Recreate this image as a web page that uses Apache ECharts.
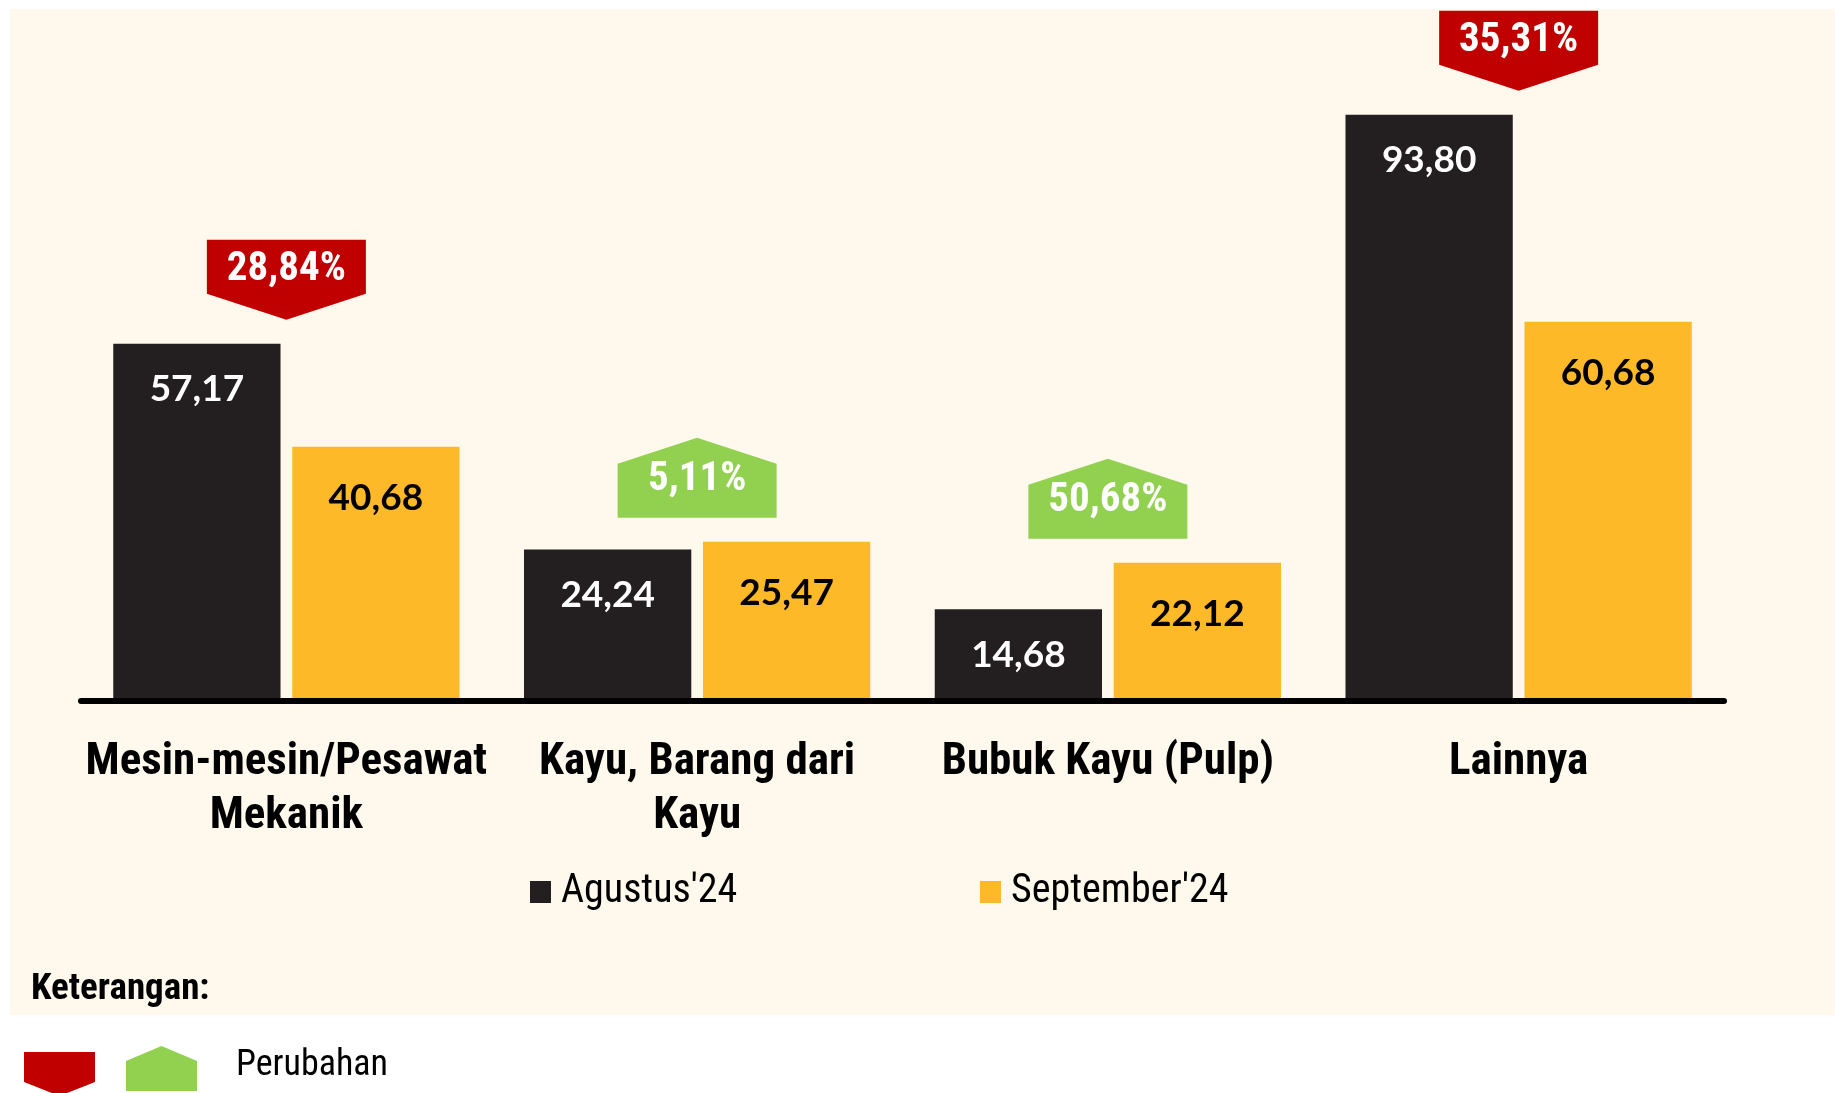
<!DOCTYPE html>
<html>
<head>
<meta charset="utf-8">
<title>Perubahan Ekspor</title>
<script src="https://cdn.jsdelivr.net/npm/echarts@6/dist/echarts.min.js"></script>
<style>
  html, body { margin: 0; padding: 0; background: #fff; }
  #main { width: 1835px; height: 1093px; }
</style>
</head>
<body>
<div id="main"></div>
<script>
const categories = ["Mesin-mesin/Pesawat\nMekanik", "Kayu, Barang dari\nKayu", "Bubuk Kayu (Pulp)", "Lainnya"];
const agustus = [57.17, 24.24, 14.68, 93.80];
const september = [40.68, 25.47, 22.12, 60.68];
const perubahan = [28.84, 5.11, 50.68, 35.31];
const seriesNames = ["Agustus'24", "September'24"];

const narrow = "'Roboto Condensed', 'Liberation Sans Narrow', sans-serif";
const fmt = v => v.toFixed(2).replace(".", ",");

// badge per category: sits above the taller bar, points down when value fell
const badgeData = categories.map((c, i) => [
  i,
  Math.max(agustus[i], september[i]),
  perubahan[i],
  september[i] < agustus[i] ? -1 : 1
]);

function renderBadge(params, api) {
  const pt = api.coord([api.value(0), api.value(1)]);
  const cx = pt[0], w = 159, rectH = 54, tipH = 26;
  const bottom = pt[1] - 24;
  const down = api.value(3) < 0;
  let points, textY;
  if (down) {
    const rBot = bottom - tipH, rTop = rBot - rectH;
    points = [[cx - w / 2, rTop], [cx + w / 2, rTop], [cx + w / 2, rBot], [cx, bottom], [cx - w / 2, rBot]];
    textY = rTop + rectH / 2 + 3;
  } else {
    const shoulder = bottom - rectH, peak = shoulder - tipH;
    points = [[cx - w / 2, bottom], [cx - w / 2, shoulder], [cx, peak], [cx + w / 2, shoulder], [cx + w / 2, bottom]];
    textY = (peak + bottom) / 2 + 2;
  }
  return {
    type: "group",
    children: [
      { type: "polygon", shape: { points: points }, style: { fill: down ? "#C00000" : "#92D050" } },
      {
        type: "text", x: cx, y: textY,
        style: {
          text: fmt(api.value(2)) + "%", fill: "#fff",
          fontSize: 41, fontWeight: "bold", fontFamily: narrow,
          align: "center", verticalAlign: "middle"
        }
      }
    ]
  };
}

const legendBase = {
  icon: "rect", itemWidth: 21, itemHeight: 22, padding: 0, top: 872,
  textStyle: { fontSize: 40, fontFamily: narrow, color: "#000", padding: [0, 0, 0, 5] }
};

const options = {
  backgroundColor: "#fff",
  animation: false,
  grid: { left: 81, right: 111, top: 76, bottom: 392 },
  legend: [
    Object.assign({}, legendBase, { left: 530, data: [seriesNames[0]] }),
    Object.assign({}, legendBase, { left: 980, data: [seriesNames[1]] })
  ],
  xAxis: {
    type: "category",
    data: categories,
    z: 10,
    axisLine: { lineStyle: { color: "#000", width: 6 } },
    axisTick: { show: false },
    axisLabel: {
      interval: 0, margin: 35, color: "#000",
      fontSize: 45, lineHeight: 54, fontWeight: "bold", fontFamily: narrow
    }
  },
  yAxis: { type: "value", min: 0, max: 100, show: false },
  series: [
    {
      name: seriesNames[0], type: "bar", data: agustus,
      barGap: "7%", barCategoryGap: "15.7%",
      itemStyle: { color: "#231F20" },
      label: {
        show: true, position: "insideTop", distance: 27, color: "#fff",
        fontFamily: "Lato", fontWeight: "bold", fontSize: 37,
        formatter: p => fmt(p.value)
      }
    },
    {
      name: seriesNames[1], type: "bar", data: september,
      itemStyle: { color: "#FDB927" },
      label: {
        show: true, position: "insideTop", distance: 33, color: "#000",
        fontFamily: "Lato", fontWeight: "bold", fontSize: 37,
        formatter: p => fmt(p.value)
      }
    },
    {
      type: "custom", data: badgeData, renderItem: renderBadge,
      silent: true, z: 5
    }
  ],
  graphic: [
    { type: "rect", z: -10, shape: { x: 10, y: 9, width: 1825, height: 1006 }, style: { fill: "#FEF9EC" } },
    {
      type: "text", x: 31, y: 990,
      style: { text: "Keterangan:", fill: "#000", fontSize: 37, fontWeight: "bold", fontFamily: narrow, verticalAlign: "middle" }
    },
    {
      type: "polygon",
      shape: { points: [[24, 1052], [95, 1052], [95, 1082], [59.5, 1096], [24, 1082]] },
      style: { fill: "#C00000" }
    },
    {
      type: "polygon",
      shape: { points: [[126, 1091], [126, 1061], [161.5, 1046], [197, 1061], [197, 1091]] },
      style: { fill: "#92D050" }
    },
    {
      type: "text", x: 236, y: 1066,
      style: { text: "Perubahan", fill: "#000", fontSize: 36, fontFamily: narrow, verticalAlign: "middle" }
    }
  ]
};

const myChart = echarts.init(document.getElementById("main"));
myChart.setOption(options);
window.onresize = function() {
  myChart.resize();
};
</script>
</body>
</html>
